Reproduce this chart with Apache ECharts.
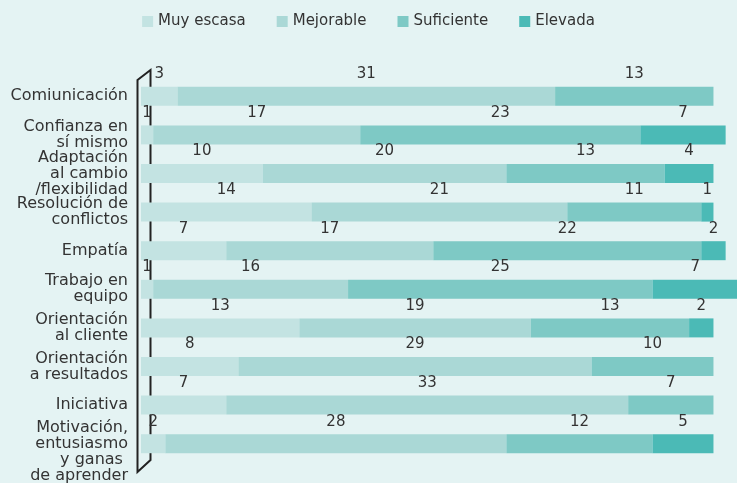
<!DOCTYPE html>
<html>
<head>
<meta charset="utf-8">
<script src="https://cdn.jsdelivr.net/npm/echarts@6/dist/echarts.min.js"></script>
<style>
html, body { margin: 0; padding: 0; background: #e4f3f3; }
#main { width: 737px; height: 483px; }
</style>
</head>
<body>
<div id="main"></div>
<script>
var dom = document.getElementById("main");
var myChart = echarts.init(dom);

var categories = [
    'Comiunicación', 'Confianza en\nsí mismo', 'Adaptación\nal cambio\n/flexibilidad',
    'Resolución de\nconflictos', 'Empatía', 'Trabajo en\nequipo', 'Orientación\nal cliente',
    'Orientación\na resultados', 'Iniciativa', '\nMotivación,\nentusiasmo\ny ganas \nde aprender'
];
var levels = ['Muy escasa', 'Mejorable', 'Suficiente', 'Elevada'];
var muyEscasa = [3, 1, 10, 14, 7, 1, 13, 8, 7, 2];
var mejorable = [31, 17, 20, 21, 17, 16, 19, 29, 33, 28];
var suficiente = [13, 23, 13, 11, 22, 25, 13, 10, 7, 12];
var elevada = [0, 7, 4, 1, 2, 7, 2, 0, 0, 5];
var colors = ['#c3e3e2', '#aad8d6', '#7ec9c5', '#4bbab6'];

var values = [muyEscasa, mejorable, suficiente, elevada];

option = {
    backgroundColor: '#e4f3f3',
    textStyle: { fontFamily: 'DejaVu Sans' },
    legend: {
        top: 9,
        left: 'center',
        icon: 'rect',
        itemWidth: 11,
        itemHeight: 11,
        itemGap: 31,
        textStyle: { fontSize: 15, color: '#333', fontFamily: 'DejaVu Sans' },
        data: levels
    },
    grid: {
        left: 141,
        top: 77,
        width: 609,
        height: 386,
        outerBoundsMode: 'none'
    },
    xAxis: {
        type: 'value',
        min: 0,
        max: 50,
        show: false
    },
    yAxis: {
        type: 'category',
        inverse: true,
        data: categories,
        axisLine: { show: false },
        axisTick: { show: false },
        splitLine: { show: false },
        axisLabel: {
            interval: 0,
            margin: 13,
            fontSize: 16,
            lineHeight: 16,
            color: '#333',
            align: 'right',
            fontFamily: 'DejaVu Sans'
        }
    },
    graphic: [{
        type: 'polygon',
        z: 0,
        shape: {
            points: [[137.5, 80], [150.5, 70], [150.5, 460], [137.5, 472]]
        },
        style: { fill: 'none', stroke: '#222', lineWidth: 2 }
    }],
    series: levels.map(function (name, i) {
        return {
            name: name,
            type: 'bar',
            stack: 'total',
            barWidth: 19,
            z: 3,
            itemStyle: { color: colors[i] },
            label: {
                show: true,
                position: 'top',
                distance: 5,
                fontSize: 15,
                color: '#333',
                fontFamily: 'DejaVu Sans',
                formatter: function (p) {
                    return p.value ? p.value : '';
                }
            },
            data: values[i]
        };
    })
};

if (option && typeof option === "object") {
    myChart.setOption(option, true);
}
</script>
</body>
</html>
